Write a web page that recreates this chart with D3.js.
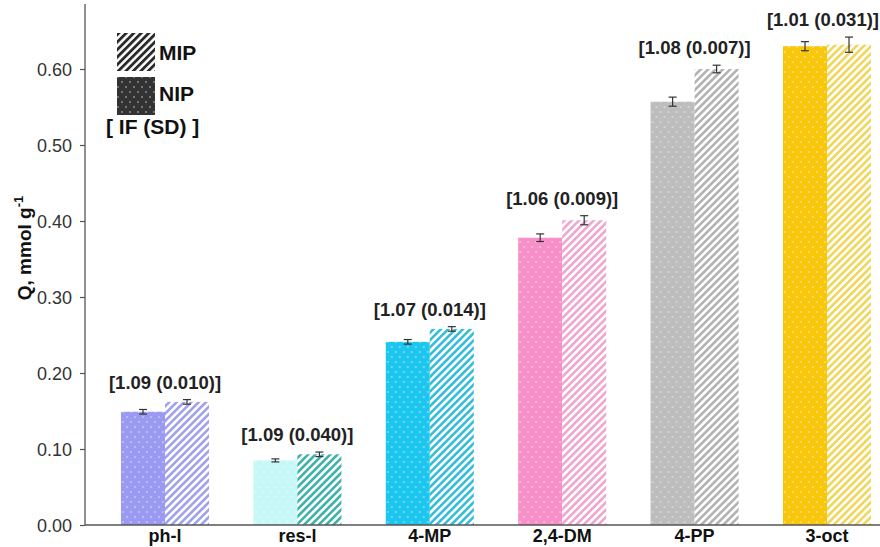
<!DOCTYPE html>
<html>
<head>
<meta charset="utf-8">
<script src="https://cdn.jsdelivr.net/npm/d3@7"></script>
<style>
  html, body { margin: 0; padding: 0; background: #fff; }
  svg { display: block; font-family: "Liberation Sans", Arial, sans-serif; }
</style>
</head>
<body>
<svg id="chart" width="880" height="547"></svg>
<script>
// Adsorption capacity Q for each analyte on the non-imprinted (NIP) and imprinted (MIP) polymer
const categories = ["ph-l", "res-l", "4-MP", "2,4-DM", "4-PP", "3-oct"];
const nipValues  = [0.149, 0.085, 0.241, 0.378, 0.557, 0.630];
const nipErrors  = [0.003, 0.002, 0.003, 0.005, 0.006, 0.006];
const mipValues  = [0.162, 0.093, 0.258, 0.401, 0.600, 0.632];
const mipErrors  = [0.003, 0.003, 0.003, 0.006, 0.005, 0.010];
const ifValues   = ["1.09", "1.09", "1.07", "1.06", "1.08", "1.01"];
const sdValues   = ["0.010", "0.040", "0.014", "0.009", "0.007", "0.031"];
const nipColors  = ["#9a9af2", "#c6f8f8", "#1cc6ef", "#f78fc8", "#bdbdbd", "#f8c70c"];
const mipColors  = ["#a2a2ec", "#3fb3aa", "#36bdd9", "#efa6cf", "#b3b3b3", "#f0d75c"];
const yTicks     = [0, 0.1, 0.2, 0.3, 0.4, 0.5, 0.6];
const series     = ["NIP", "MIP"];

const W = 880;
const svg = d3.select("#chart");
const defs = svg.append("defs");

// dotted fill for NIP bars, diagonal hatching for MIP bars
function dotPattern(id, color) {
  const p = defs.append("pattern").attr("id", id)
    .attr("patternUnits", "userSpaceOnUse").attr("width", 8).attr("height", 10);
  p.append("rect").attr("width", 8).attr("height", 10).attr("fill", color);
  [[2, 2], [6, 7]].forEach(([cx, cy]) =>
    p.append("circle").attr("cx", cx).attr("cy", cy).attr("r", 0.75)
      .attr("fill", "#fff").attr("fill-opacity", 0.8));
}
function hatchPattern(id, color, w, t) {
  const p = defs.append("pattern").attr("id", id)
    .attr("patternUnits", "userSpaceOnUse").attr("width", w).attr("height", 10)
    .attr("patternTransform", "rotate(45)");
  p.append("rect").attr("width", w).attr("height", 10).attr("fill", "#fff");
  p.append("rect").attr("width", t).attr("height", 10).attr("fill", color);
}
categories.forEach((c, i) => {
  dotPattern("dots" + i, nipColors[i]);
  hatchPattern("hatch" + i, mipColors[i], 5.2, 2.6);
});
dotPattern("dotsLegend", "#333333");
hatchPattern("hatchLegend", "#2a2a2a", 5.3, 2.8);

const axisX = 85, baseY = 525;
const y = d3.scaleLinear().domain([0, 0.6]).range([baseY, 69]);
const x = d3.scaleBand().domain(categories).range([98.8, 893.2])
  .paddingInner(0.335).paddingOuter(0.1675);
const xs = d3.scaleBand().domain(series).range([0, x.bandwidth()]);

// y axis
const yAxis = svg.append("g").attr("transform", `translate(${axisX},0)`)
  .call(d3.axisLeft(y).tickValues(yTicks).tickFormat(d3.format(".2f")).tickSize(5).tickSizeOuter(0));
yAxis.select(".domain").remove();
yAxis.selectAll(".tick line").attr("stroke", "#555").attr("stroke-width", 1.2);
yAxis.selectAll(".tick text").attr("font-size", 18).attr("fill", "#333")
  .attr("x", -13).attr("dy", "0.34em")
  .attr("font-family", "'Liberation Sans', Arial, sans-serif");
svg.append("line").attr("x1", axisX).attr("x2", axisX).attr("y1", 4).attr("y2", baseY)
  .attr("stroke", "#555").attr("stroke-width", 1.3);

// y axis title
const yt = svg.append("text")
  .attr("transform", "translate(31,248) rotate(-90)")
  .attr("text-anchor", "middle").attr("font-size", 19).attr("font-weight", "bold").attr("fill", "#111");
yt.append("tspan").text("Q, mmol g");
yt.append("tspan").text("-1").attr("font-size", 13).attr("dy", -8);

// bars
const groups = svg.selectAll("g.cat").data(categories).join("g")
  .attr("class", "cat").attr("transform", d => `translate(${x(d)},0)`);

const rows = categories.map((c, i) => [
  { s: "NIP", v: nipValues[i], e: nipErrors[i], fill: `url(#dots${i})` },
  { s: "MIP", v: mipValues[i], e: mipErrors[i], fill: `url(#hatch${i})` }
]);

groups.each(function (c, i) {
  const g = d3.select(this);
  g.selectAll("rect.bar").data(rows[i]).join("rect").attr("class", "bar")
    .attr("x", d => xs(d.s)).attr("width", xs.bandwidth())
    .attr("y", d => y(d.v)).attr("height", d => baseY - y(d.v))
    .attr("fill", d => d.fill);
  // error bars
  const eb = g.selectAll("g.err").data(rows[i]).join("g").attr("class", "err")
    .attr("stroke", "#333").attr("stroke-width", 1.2);
  eb.append("line")
    .attr("x1", d => xs(d.s) + xs.bandwidth() / 2).attr("x2", d => xs(d.s) + xs.bandwidth() / 2)
    .attr("y1", d => y(d.v - d.e)).attr("y2", d => y(d.v + d.e));
  eb.append("line")
    .attr("x1", d => xs(d.s) + xs.bandwidth() / 2 - 4).attr("x2", d => xs(d.s) + xs.bandwidth() / 2 + 4)
    .attr("y1", d => y(d.v + d.e)).attr("y2", d => y(d.v + d.e));
  eb.append("line")
    .attr("x1", d => xs(d.s) + xs.bandwidth() / 2 - 4).attr("x2", d => xs(d.s) + xs.bandwidth() / 2 + 4)
    .attr("y1", d => y(d.v - d.e)).attr("y2", d => y(d.v - d.e));
  // imprinting factor label, kept inside the right edge
  const top = d3.max(rows[i], d => d.v + d.e);
  const lbl = g.append("text").attr("x", x.bandwidth() / 2).attr("y", y(top) - 11)
    .attr("text-anchor", "middle").attr("font-size", 18.5).attr("font-weight", "bold").attr("fill", "#222")
    .text(`[${ifValues[i]} (${sdValues[i]})]`);
  const half = lbl.node().getComputedTextLength() / 2;
  const overflow = x(c) + x.bandwidth() / 2 + half - (W - 1);
  if (overflow > 0) lbl.attr("x", x.bandwidth() / 2 - overflow);
  // category label
  g.append("text").attr("x", x.bandwidth() / 2).attr("y", 542)
    .attr("text-anchor", "middle").attr("font-size", 18).attr("font-weight", "bold").attr("fill", "#111")
    .text(c);
});

// baseline
svg.append("line").attr("x1", axisX).attr("x2", W).attr("y1", baseY).attr("y2", baseY)
  .attr("stroke", "#555").attr("stroke-width", 1.5);

// legend
const legend = svg.append("g");
legend.append("rect").attr("x", 117).attr("y", 33).attr("width", 38).attr("height", 38).attr("fill", "url(#hatchLegend)");
legend.append("rect").attr("x", 117).attr("y", 77).attr("width", 38).attr("height", 38).attr("fill", "url(#dotsLegend)");
legend.append("text").attr("x", 159).attr("y", 60).attr("font-size", 21).attr("font-weight", "bold").attr("fill", "#111").text("MIP");
legend.append("text").attr("x", 159).attr("y", 101).attr("font-size", 21).attr("font-weight", "bold").attr("fill", "#111").text("NIP");
legend.append("text").attr("x", 106).attr("y", 134).attr("font-size", 21).attr("font-weight", "bold").attr("fill", "#111").text("[ IF (SD) ]");
</script>
</body>
</html>
